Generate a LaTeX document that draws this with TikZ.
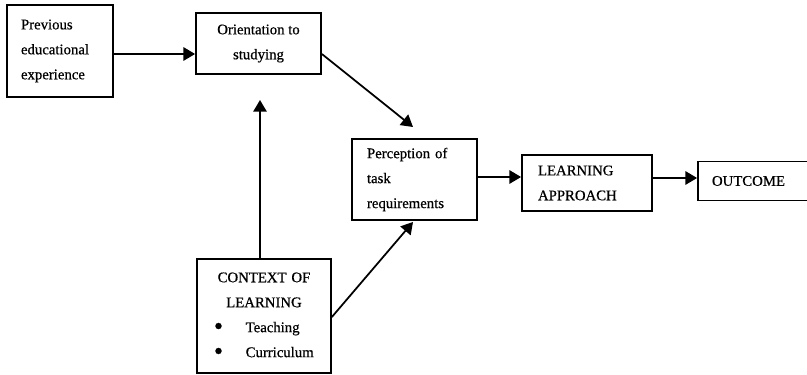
\documentclass[tikz,border=0pt]{standalone}
\usepackage{fontspec}
\setmainfont{Liberation Serif}[FakeBold=0.6]
\usetikzlibrary{arrows.meta}

\begin{document}
\begin{tikzpicture}[x=0.03cm, y=-0.03cm,
        box/.style = {draw, line width=1.5pt, fill=white, inner ysep=0pt,
            font=\fontsize{12.6}{21.3}\selectfont},
        arr/.style = {line width=1.5pt, -{Triangle[length=3.5mm, width=4mm]}}]
        \useasboundingbox (0, 0) rectangle (807, 375);
        \node[box, minimum width=3.18cm, minimum height=2.76cm, inner xsep=0.42cm, text width=2.34cm, align=left] (prev) at (60, 51) {Previous\\educational\\experience};
        \node[box, minimum width=3.75cm, minimum height=1.83cm, align=center] (orient) at (258.5, 43.5) {Orientation to\\studying};
        \node[box, minimum width=3.75cm, minimum height=2.43cm, inner xsep=0.45cm, text width=2.85cm, align=left] (percep) at (414.5, 179.5) {Perception of\\task\\requirements};
        \node[box, minimum width=3.9cm, minimum height=1.68cm, inner xsep=0.48cm, text width=2.94cm, align=left] (approach) at (587, 183) {LEARNING\\APPROACH};
        \node[box, minimum width=3.45cm, minimum height=1.17cm, inner xsep=0.42cm, text width=2.61cm, align=left] (outcome) at (755.5, 181) {OUTCOME};
        \node[box, minimum width=4.02cm, minimum height=3.42cm, inner xsep=0.51cm, text width=3.0cm, align=center] (context) at (264, 316) {CONTEXT OF\\LEARNING\\\makebox[3cm][l]{\raisebox{-0.35ex}{\fontsize{22}{22}\selectfont\textbullet}\hspace{0.68cm}Teaching}\\\makebox[3cm][l]{\raisebox{-0.35ex}{\fontsize{22}{22}\selectfont\textbullet}\hspace{0.68cm}Curriculum}};
        \coordinate (tipA) at (413, 127);
        \coordinate (tipB) at (413, 222);
        \coordinate (tipC) at (260, 100);
        \draw[arr] (prev.east |- 0, 54) -- (orient.west |- 0, 54);
        \draw[arr] (orient.east |- 0, 54) -- (tipA);
        \draw[arr] (context.north -| tipC) -- (tipC);
        \draw[arr] (context.east |- 0, 317) -- (tipB);
        \draw[arr] (percep.east |- 0, 177) -- (approach.west |- 0, 177);
        \draw[arr] (approach.east |- 0, 178) -- (outcome.west |- 0, 178);
    \end{tikzpicture}
\end{document}
